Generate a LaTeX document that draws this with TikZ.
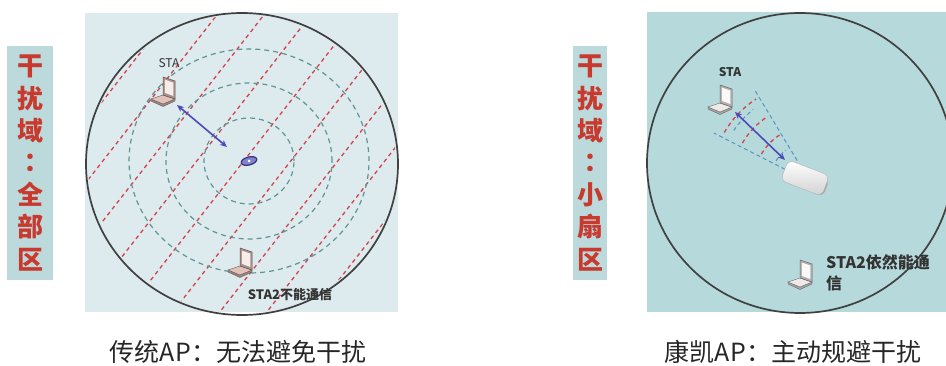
\documentclass[tikz,border=0pt]{standalone}
\usepackage{fontspec}
\setmainfont{Noto Sans CJK SC}
\newfontfamily\tcfont{Noto Sans CJK TC}
\usepackage{xcolor}
\usetikzlibrary{arrows.meta,positioning,calc}

\definecolor{panelA}{HTML}{DDEBEE}
\definecolor{panelB}{HTML}{B6D9DB}
\definecolor{tagbg}{HTML}{BCD9DC}
\definecolor{tagred}{HTML}{C8392E}
\definecolor{ringgrey}{HTML}{5E9494}
\definecolor{hatchred}{HTML}{D4434B}
\definecolor{linkblue}{HTML}{4B4BB8}
\definecolor{beamblue}{HTML}{5B93C7}
\definecolor{peach}{HTML}{E0C2B8}
\definecolor{shell}{HTML}{EEEAEA}

\begin{document}
\begin{tikzpicture}[x=1pt, y=1pt,
tag/.style={fill=tagbg, text=tagred, align=center, inner sep=0pt, font=\fontsize{26}{32.2}\selectfont\bfseries},
caption/.style={font=\fontsize{25}{30}\selectfont, text=black!85},
lbl/.style={font=\fontsize{12}{14}\selectfont\bfseries, text=black!80, inner sep=1pt},
ring/.style={draw=ringgrey, line width=1.2pt, dash pattern=on 5pt off 4pt},
hatch/.style={draw=hatchred, line width=1.3pt, dash pattern=on 4pt off 3.5pt},
beam/.style={draw=beamblue, line width=1pt, dash pattern=on 4pt off 3pt},
link/.style={{Stealth[length=7pt,width=6pt]}-{Stealth[length=7pt,width=6pt]}, draw=linkblue, line width=1.6pt},
rim/.style={draw=black!75, line width=1.7pt},
router/.style={draw=black!30, rounded corners=6pt, minimum width=44pt, minimum height=22pt, top color=white, bottom color=black!18},
pics/laptop/.style={code={
  % keyboard, its front edge, then the lid
  \filldraw[fill=#1!70!black, draw=#1!45!black, line width=.4pt] (-12,-8) -- (0,-13) -- (12,-8) -- (12,-10) -- (0,-15.5) -- (-12,-10) -- cycle;
  \filldraw[fill=#1, draw=#1!45!black, line width=.4pt] (0,-4) -- (12,-8) -- (0,-13) -- (-12,-8) -- cycle;
  \filldraw[fill=#1!75!black, draw=#1!45!black, line width=.5pt] (0,-4) -- (12,-8) -- (12,10) -- (0,14) -- cycle;
  \fill[#1!30!white] (1.8,-1.8) -- (10.4,-5) -- (10.4,8.4) -- (1.8,11.4) -- cycle;
}}
]
\useasboundingbox (0,0) rectangle (946,365);

% conventional AP: whole area jammed
\node[tag, minimum width=46pt, minimum height=234pt] (tagA) at (30,202) {干\\扰\\域\\{\tcfont ：}\\全\\部\\区};
\fill[panelA] (85,53) rectangle (398,352);
\coordinate (apA) at (249,204);
\begin{scope}
\clip (242,201) ellipse [x radius=154, y radius=149];
\foreach \k in {-5,...,9}
  \draw[hatch] (243+47*\k,203) ++(232:240) -- ++(52:480);
\end{scope}
\foreach \r/\s in {45/43,83/78,120/112}
  \draw[ring] (apA) ellipse [x radius=\r, y radius=\s];
\draw[rim] (242,201) ellipse [x radius=156, y radius=151];
\filldraw[fill=linkblue!70, draw=linkblue!70!black, line width=1.2pt, rotate around={15:(apA)}] (apA) ellipse [x radius=8, y radius=4];
\fill[white] (apA) circle (1.5);

\pic at (163,274) {laptop=peach};
\node[lbl, font=\fontsize{12}{14}\selectfont] (staA) at (169,302) {STA};
\coordinate (a1) at (177,260);
\coordinate (a2) at (227,218);
\draw[link] (a1) -- (a2);
\pic at (240,103) {laptop=peach};
\node[lbl, font=\fontsize{13}{15}\selectfont\bfseries] (sta2A) at (290,70) {STA2不能通信};
\node[caption] (capA) at (238,13) {传统AP：无法避免干扰};

% our AP: narrow beam towards the station
\node[tag, minimum width=34pt, minimum height=234pt] (tagB) at (590,202) {干\\扰\\域\\{\tcfont ：}\\小\\扇\\区};
\fill[panelB] (647,53) rectangle (946,353);
\draw[rim] (800,202) ellipse [x radius=153, y radius=150];
\coordinate (apB) at (810,183);
\draw[beam] (apB) ++(121:25) -- ++(121:83);
\draw[beam] (apB) ++(153:28) -- ++(153:80);
\draw[beam] (apB) ++(146:92) arc[start angle=146, end angle=128, radius=92];
\draw[beam] (apB) ++(148:40) arc[start angle=148, end angle=127, radius=40];
\foreach \r in {56,78,99}
  \draw[hatch] (apB) ++(150:\r) arc[start angle=150, end angle=123, radius=\r];
\fill[black!35, rotate around={-21:(805,183)}, rounded corners=5pt] (783,176) rectangle (827,194);
\node[router, rotate=-21] (boxB) at (805,187) {};

\pic at (720,266) {laptop=shell};
\node[lbl] (staB) at (730,293) {STA};
\coordinate (b1) at (735,253);
\coordinate (b2) at (785,205);
\draw[link] (b1) -- (b2);
\pic at (800,91) {laptop=shell};
\node[lbl, font=\fontsize{16}{21}\selectfont\bfseries, align=left, anchor=west] (sta2B) at (825,92) {STA2依然能通\\信};
\node[caption] (capB) at (793,13) {康凯AP：主动规避干扰};
\end{tikzpicture}
\end{document}
